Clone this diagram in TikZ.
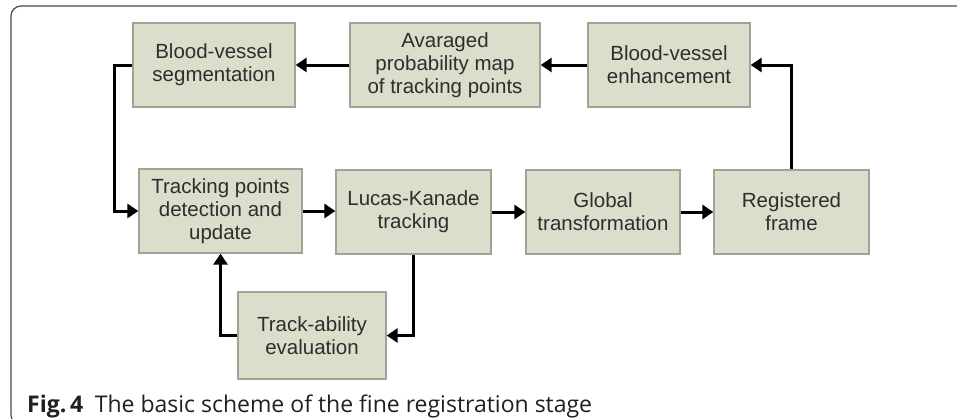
\documentclass[tikz,border=0pt]{standalone}
\usepackage{fontspec}
\setmainfont{Liberation Sans}
\newfontfamily\captionfont{Open Sans}
\definecolor{BoxFill}{HTML}{DCDDCA}
\definecolor{BoxLine}{HTML}{A2A298}
\definecolor{TextGray}{HTML}{2E2E2E}
\definecolor{FrameGray}{HTML}{4A4A4A}
\definecolor{CaptionBlack}{HTML}{231F20}
\usetikzlibrary{arrows.meta,positioning}
\tikzset{
  box/.style={draw=BoxLine, line width=1.3pt, fill=BoxFill, align=center, inner sep=0pt, text=TextGray, font=\fontsize{20.5}{23}\selectfont, minimum height=84pt},
  arrow/.style={-{Triangle[length=11pt,width=14pt]}, line width=3pt, draw=black},
  frame/.style={draw=FrameGray, line width=1.2pt, rounded corners=10pt}
}

\begin{document}
\begin{tikzpicture}[x=1pt,y=-1pt]
\path[use as bounding box, clip] (0,0) rectangle (957,418);
\fill[white] (0,0) rectangle (957,418);
\draw[frame] (11,6) rectangle (990,425);

% upper row
\node[box, minimum width=162pt] (seg) at (214,65) {Blood-vessel\\segmentation};
\node[box, minimum width=190pt] (avg) at (445,65) {Avaraged\\probability map\\of tracking points};
\node[box, minimum width=162pt] (enh) at (669,65) {Blood-vessel\\enhancement};

% lower row
\node[box, minimum width=163pt] (tpd) at (220.5,211) {Tracking points\\detection and\\update};
\node[box, minimum width=155pt] (lkt) at (413.5,212) {Lucas-Kanade\\tracking};
\node[box, minimum width=154pt] (glob) at (603,212) {Global\\transformation};
\node[box, minimum width=155pt] (reg) at (791.5,212) {Registered\\frame};
\node[box, minimum width=148pt, minimum height=87pt] (eval) at (312,335.5) {Track-ability\\evaluation};

% connectors
\draw[arrow] (reg.north) |- (enh.east);
\draw[arrow] (enh.west) -- (avg.east);
\draw[arrow] (avg.west) -- (seg.east);
\draw[arrow] (seg.west) -- ++(-18,0) |- (tpd.west);
\draw[arrow] (tpd.east) -- (tpd.east -| lkt.west);
\draw[arrow] (lkt.east) -- (glob.west);
\draw[arrow] (glob.east) -- (reg.west);
\draw[arrow] (lkt.south) |- (eval.east);
\draw[arrow] (eval.west) -| (tpd.south);

\node[anchor=base west, inner sep=0pt, text=CaptionBlack, font=\captionfont\fontsize{23}{26}\selectfont] (caption) at (27,412)
  {\textbf{Fig.\,4}\hspace{0.5em}The basic scheme of the fine registration stage};
\end{tikzpicture}
\end{document}
